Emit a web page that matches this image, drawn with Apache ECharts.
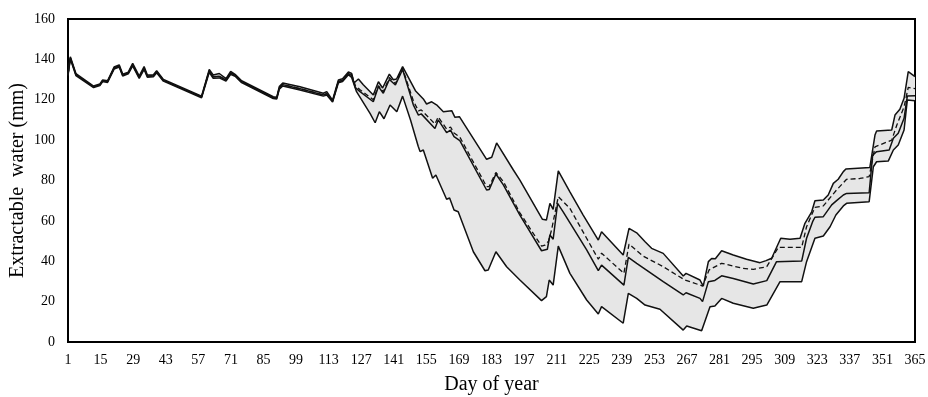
<!DOCTYPE html>
<html>
<head>
<meta charset="utf-8">
<script src="https://cdn.jsdelivr.net/npm/echarts@6/dist/echarts.min.js"></script>
<style>
  html, body { margin: 0; padding: 0; background: #fff; }
  #chart { width: 928px; height: 397px; }
</style>
</head>
<body>
<div id="chart"></div>
<script>
// Day-of-year tick labels on the x axis
const dayTicks = [1, 15, 29, 43, 57, 71, 85, 99, 113, 127, 141, 155, 169, 183, 197,
  211, 225, 239, 253, 267, 281, 295, 309, 323, 337, 351, 365];

// Upper bound of extractable water (mm), [day, value]
const upperBound = [
  [1, 133], [2, 141.3], [4.4, 133], [12, 126.8], [14.7, 127.8], [15.9, 129.8], [18, 129.4],
  [20.8, 136.2], [23, 137.3], [24.5, 132.7], [26.9, 133.7], [28.8, 138], [31.6, 131.7],
  [33.7, 136.4], [35.1, 132.2], [37.7, 132.4], [39.1, 134.4], [42, 130.1], [58.4, 121.8],
  [61.7, 135], [63.4, 132.3], [66, 133], [68.9, 130.5], [70.9, 134], [72.8, 132.6],
  [75.6, 129.4], [89.2, 121.5], [90.7, 121.2], [91.8, 126.5], [93.3, 128.3], [100.7, 126.4],
  [110.7, 123.2], [112.2, 124], [114.7, 119.8], [117.2, 129.8], [119, 130.4], [121.5, 133.8],
  [122.9, 133], [123.9, 128.3], [125.8, 130.3], [127.9, 127.4], [132.2, 122.4], [134.4, 128.9],
  [136.2, 125.8], [139.1, 132.7], [140.8, 129.9], [142.2, 130.3], [144.8, 136.4], [150.3, 124.5],
  [153.7, 120.4], [155.1, 117.9], [157.3, 119], [159.7, 117.2], [162.3, 114.1], [165.9, 114.6],
  [167.3, 111.3], [169.2, 111.6], [180.9, 90.5], [183.1, 91.5], [185.2, 98.6], [192.4, 85.2],
  [195.2, 80.2], [204.9, 60.8], [206.6, 60.4], [208.1, 68.7], [209.5, 65.7], [211.7, 84.8],
  [216.7, 74.4], [222.4, 62.9], [228.9, 50.5], [230.3, 54.6], [239.6, 43.1], [242.1, 56.3],
  [245.4, 54.1], [249, 49.7], [251.8, 46.4], [256.8, 43.9], [265.4, 32.7], [266.6, 34],
  [272.6, 30.7], [274, 27.7], [276.2, 39.8], [277.6, 41.4], [279.2, 41.2], [281.9, 45.2],
  [286.9, 43.1], [292.6, 41], [298.4, 39.3], [301, 40.3], [303.4, 41.5], [307.3, 51.4],
  [311.3, 50.9], [315.6, 51.4], [317.7, 58.8], [320.6, 64.5], [322, 70], [325.6, 70.3],
  [327.7, 72.8], [329.9, 78.6], [332, 80.6], [334.2, 84.4], [335.3, 85.7], [345.6, 86.5],
  [347.8, 102.5], [348.5, 104.5], [355, 105], [356.4, 112.4], [358.5, 115.3], [360.3, 120.7],
  [362.1, 133.9], [365, 131.5]
];

// Lower bound of extractable water (mm), [day, value]
const lowerBound = [
  [1, 132], [2, 140.2], [4.4, 132], [12, 126], [14.7, 127], [15.9, 129], [18, 128.6],
  [20.8, 135.2], [23, 136.2], [24.5, 131.8], [26.9, 132.8], [28.8, 136.8], [31.6, 130.6],
  [33.7, 135], [35.1, 131.2], [37.7, 131.4], [39.1, 133.4], [42, 129.2], [58.4, 121],
  [61.7, 133.6], [63.4, 130.6], [66, 130.8], [68.9, 129.2], [70.9, 132.6], [72.8, 131.6],
  [75.6, 128.5], [89.2, 120.6], [90.7, 120.4], [91.8, 125.2], [93.3, 126.8], [100.7, 124.8],
  [110.7, 121.8], [112.2, 122.3], [114.7, 118.9], [117.2, 128.4], [119, 129], [121.5, 132.4],
  [122.9, 131], [125, 124], [130.8, 113.3], [133, 108.6], [134.8, 114.1], [136.8, 110.6],
  [139.4, 117.4], [142.3, 114.1], [144.8, 121.8], [148.2, 110], [151.5, 97], [152.3, 94.3],
  [153.7, 95.1], [157.7, 81.1], [159.1, 82.7], [163.7, 70.7], [165, 71.3], [166.9, 65.4],
  [168.7, 64.5], [175.2, 44.7], [180.2, 35.3], [181.6, 35.7], [184.9, 44.7], [189.5, 37.3],
  [195.2, 30.7], [204.5, 20.5], [206.6, 22.5], [207.8, 30.7], [209.5, 28.2], [211.7, 47.5],
  [216.7, 34], [223.9, 20.8], [228.9, 13.9], [230.3, 17.5], [239.6, 9.3], [241.8, 24.1],
  [245.4, 21.6], [249, 18.3], [255.4, 16.2], [265.4, 5.9], [266.9, 7.9], [273.3, 5.6],
  [276.9, 17.5], [279, 17.8], [281.9, 21.6], [286.9, 19.2], [295.5, 16.7], [298.1, 17.5],
  [301.3, 18.3], [307, 29.9], [316.3, 29.9], [318.4, 39.8], [322, 51.4], [325.6, 52.5],
  [328.5, 57.1], [331, 62.9], [334.2, 67.4], [335.6, 68.7], [345.3, 69.5], [347.1, 86.8],
  [348.5, 89.3], [353.5, 89.6], [355.7, 95.1], [357.8, 97.6], [360.3, 105], [361.7, 119.9],
  [365, 119.5]
];

// Median extractable water (mm), [day, value]
const medianWater = [
  [1, 132.5], [2, 140.8], [4.4, 132.5], [12, 126.4], [14.7, 127.4], [15.9, 129.4], [18, 129],
  [20.8, 135.7], [23, 136.7], [24.5, 132.2], [26.9, 133.2], [28.8, 137.4], [31.6, 131.1],
  [33.7, 135.7], [35.1, 131.7], [37.7, 131.9], [39.1, 133.9], [42, 129.6], [58.4, 121.4],
  [61.7, 134.3], [63.4, 131.4], [66, 131.6], [68.9, 129.8], [70.9, 133.3], [72.8, 132.1],
  [75.6, 129], [89.2, 121], [90.7, 120.8], [91.8, 125.8], [93.3, 127.5], [100.7, 125.5],
  [110.7, 122.4], [112.2, 123], [114.7, 119.3], [117.2, 129], [119, 129.6], [121.5, 133],
  [122.9, 132], [124.5, 126], [126.5, 124], [132.2, 119], [134.4, 126.5], [136.5, 123.2],
  [139.1, 130], [141.7, 127.3], [144.8, 135], [149.4, 117.5], [151.6, 112.4], [152.8, 113],
  [158.7, 105.8], [160.1, 110], [163.7, 103.7], [165.4, 105], [166.9, 101.7], [169.4, 99.7],
  [180.9, 75.3], [182, 75.5], [184.9, 83.2], [188.1, 77.8], [195.2, 62.9], [204.5, 45.2],
  [207, 45.9], [208.1, 53], [209.5, 50.9], [211.4, 68.7], [213.8, 64.5], [223.9, 45.6],
  [228.9, 35.3], [230.3, 38.1], [239.9, 28.2], [241.8, 41.9], [245.4, 39], [256.8, 29.9],
  [265.4, 23.3], [266.6, 24.4], [272.6, 21.6], [273.7, 20], [276.2, 29.9], [279, 30.5],
  [281.9, 32.8], [286.9, 31.5], [295.5, 28.7], [301.3, 30.4], [305.5, 39.8], [316.3, 40.1],
  [318.4, 51.4], [321, 59.6], [322, 61.8], [325.6, 62.1], [329.2, 67.9], [331.3, 70],
  [334.2, 72.8], [335.6, 73.6], [345.3, 73.9], [346.8, 92.6], [348.5, 94.3], [353.9, 95.1],
  [355.7, 100.9], [357.8, 103.4], [360.3, 110.8], [361.7, 121.8], [365, 122]
];

// Mean extractable water (mm), [day, value]
const meanWater = [
  [1, 132.5], [2, 140.8], [4.4, 132.5], [12, 126.4], [14.7, 127.4], [15.9, 129.4], [18, 129],
  [20.8, 135.7], [23, 136.7], [24.5, 132.2], [26.9, 133.2], [28.8, 137.4], [31.6, 131.1],
  [33.7, 135.7], [35.1, 131.7], [37.7, 131.9], [39.1, 133.9], [42, 129.6], [58.4, 121.4],
  [61.7, 134.3], [63.4, 131.4], [66, 131.6], [68.9, 129.8], [70.9, 133.3], [72.8, 132.1],
  [75.6, 129], [89.2, 121], [90.7, 120.8], [91.8, 125.8], [93.3, 127.5], [100.7, 125.5],
  [110.7, 122.4], [112.2, 123], [114.7, 119.3], [117.2, 129], [119, 129.6], [121.5, 133],
  [122.9, 132.5], [124.5, 127], [126.5, 125], [132.2, 120], [134.4, 127], [136.5, 124],
  [139.1, 131], [141.7, 128], [144.8, 135.5], [149.4, 119.5], [151.6, 114.5], [152.8, 115],
  [158.7, 108], [160.1, 111.5], [163.7, 105.5], [165.4, 106.5], [166.9, 103.5], [169.4, 101.5],
  [180.9, 77], [182, 77], [184.9, 84], [188.1, 79.5], [195.2, 64], [204.5, 47.5],
  [206, 48], [207.5, 50], [208.8, 55.5], [211.7, 72], [216.7, 66.2], [228.9, 41],
  [230.3, 44], [239.9, 34], [242.1, 48.5], [248.1, 42.6], [256.8, 37.3], [266.1, 30.7],
  [272.6, 28.2], [273.7, 27.7], [276.5, 35.7], [281.9, 39], [291, 36.5], [295.5, 36],
  [301.3, 37.3], [306.3, 46.9], [316.3, 46.9], [318.4, 57.1], [322, 66.7], [325.6, 67.4],
  [331.3, 75.3], [335.6, 80.6], [341.3, 81], [345.3, 81.9], [347.8, 96.7], [355, 100],
  [357.2, 107.5], [360.3, 116.5], [362.1, 126.1], [365, 125.5]
];

const chart = echarts.init(document.getElementById('chart'), null, { renderer: 'canvas' });

const serifFont = '"Liberation Serif", "Times New Roman", serif';

// Shaded band between the lower and upper bounds
function renderBand(params, api) {
  const pts = upperBound.map(p => api.coord(p))
    .concat(lowerBound.slice().reverse().map(p => api.coord(p)));
  return {
    type: 'polygon',
    shape: { points: pts },
    style: { fill: '#e6e6e6', stroke: null }
  };
}

const lineBase = {
  type: 'line',
  showSymbol: false,
  symbol: 'none',
  smooth: false,
  silent: true,
  z: 3
};

chart.setOption({
  animation: false,
  backgroundColor: '#fff',
  grid: {
    left: 68, right: 13, top: 19, bottom: 55,
    containLabel: false,
    outerBoundsMode: 'none',
    show: true, borderColor: '#000', borderWidth: 2, backgroundColor: 'transparent'
  },
  xAxis: {
    type: 'value',
    min: 1,
    max: 365,
    name: 'Day of year',
    nameLocation: 'middle',
    nameGap: 33,
    nameMoveOverlap: false,
    nameTextStyle: { fontFamily: serifFont, fontSize: 20, color: '#000' },
    axisLine: { show: true, lineStyle: { color: '#000', width: 2 } },
    axisTick: { show: false },
    splitLine: { show: false },
    axisLabel: {
      customValues: dayTicks,
      fontFamily: serifFont, fontSize: 14, color: '#000', margin: 11
    }
  },
  yAxis: {
    type: 'value',
    min: 0,
    max: 160,
    interval: 20,
    name: 'Extractable  water (mm)',
    nameLocation: 'middle',
    nameGap: 40,
    nameMoveOverlap: false,
    nameTextStyle: { fontFamily: serifFont, fontSize: 20, color: '#000' },
    axisLine: { show: true, lineStyle: { color: '#000', width: 2 } },
    axisTick: { show: false },
    splitLine: { show: false },
    axisLabel: { fontFamily: serifFont, fontSize: 14, color: '#000', margin: 13 }
  },
  series: [
    {
      type: 'custom',
      renderItem: renderBand,
      data: [[1, 0]],
      encode: { x: 0, y: 1 },
      silent: true,
      z: 1
    },
    Object.assign({}, lineBase, {
      name: 'Upper',
      data: upperBound,
      lineStyle: { color: '#111', width: 1.5 }
    }),
    Object.assign({}, lineBase, {
      name: 'Lower',
      data: lowerBound,
      lineStyle: { color: '#111', width: 1.5 }
    }),
    Object.assign({}, lineBase, {
      name: 'Median',
      data: medianWater,
      lineStyle: { color: '#111', width: 1.5 }
    }),
    Object.assign({}, lineBase, {
      name: 'Mean',
      data: meanWater,
      lineStyle: { color: '#111', width: 1.3, type: [5, 3] }
    })
  ]
});
</script>
</body>
</html>
